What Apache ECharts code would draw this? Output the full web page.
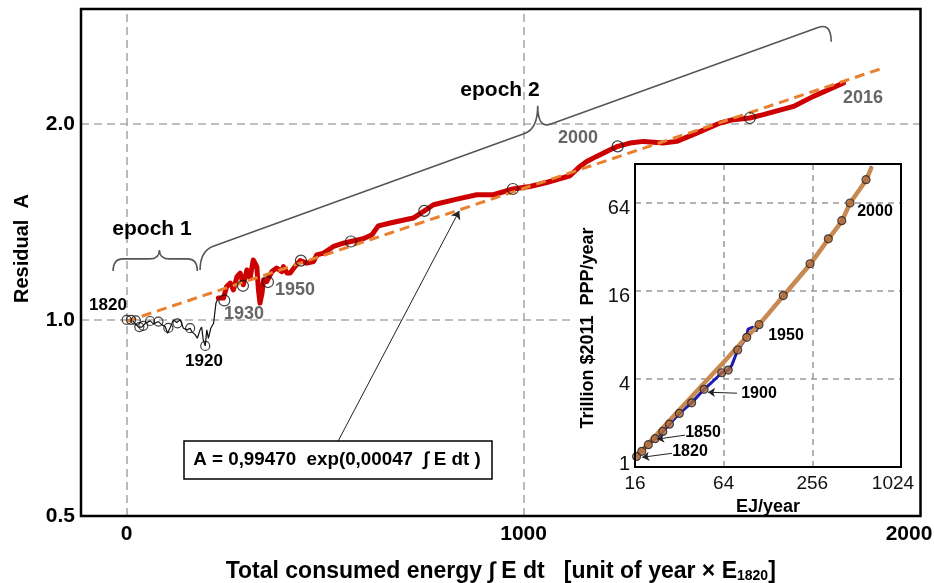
<!DOCTYPE html>
<html><head><meta charset="utf-8">
<script src="https://cdn.jsdelivr.net/npm/echarts@6/dist/echarts.min.js"></script>
<style>html,body{margin:0;padding:0;background:#fff}#c{width:934px;height:583px}</style>
</head><body><div id="c"></div>
<script>
// ===== Main chart: residual A vs total consumed energy =====
const xTicks = [0, 1000, 2000];
// epoch 1 (1820-1920) thin black trace
const epoch1Energy = [0,13,21,30,38,47,59,68,80,89,97,103,110,118,126,135,143,152,160,164,173,178,185,189,193,198,202,206,212,219,225,231];
const epoch1Residual = [1.0,1.0,0.988,0.9745,0.9745,0.988,0.9965,0.986,0.994,0.9825,0.9766,0.954,0.9745,1.0,0.9905,1.0,0.971,0.9652,0.971,0.9594,0.9483,0.937,0.9652,0.9745,0.9317,0.912,0.9652,0.937,0.971,0.988,1.061,1.080];
// decade markers 1820..1920
const epoch1MarkEnergy = [0,11,23,32,42,59,80,105,128,160,198];
const epoch1MarkResidual = [1.0,1.0,0.998,0.975,0.979,0.996,0.994,0.972,0.988,0.971,0.912];
// epoch 2 (1920-2016) thick red trace
const epoch2Energy = [231,244,252,261,269,278,286,294,303,311,319,328,332,336,341,345,353,366,378,391,395,404,412,424,437,454,471,479,496,521,546,565,596,618,634,664,722,750,773,832,882,924,973,1016,1058,1117,1142,1159,1184,1218,1237,1268,1302,1352,1386,1436,1495,1528,1570,1604,1680,1730,1806];
const epoch2Residual = [1.080,1.080,1.125,1.139,1.112,1.165,1.180,1.132,1.193,1.159,1.236,1.207,1.112,1.061,1.099,1.152,1.145,1.186,1.201,1.186,1.207,1.180,1.180,1.207,1.233,1.222,1.229,1.258,1.266,1.296,1.311,1.319,1.332,1.351,1.394,1.408,1.433,1.470,1.502,1.532,1.556,1.556,1.588,1.602,1.625,1.664,1.720,1.750,1.782,1.824,1.846,1.868,1.879,1.868,1.879,1.935,2.005,2.029,2.041,2.065,2.126,2.203,2.310];
// decade markers 1930..2010
const epoch2MarkEnergy = [246,293,356,439,565,750,973,1237,1570];
const epoch2MarkResidual = [1.071,1.128,1.143,1.233,1.319,1.470,1.588,1.846,2.041];
// fitted exponential A = 0.99470 exp(0.00047 * E) (endpoints)
const fitEnergy = [0, 1910];
const fitResidual = [0.995, 2.44];
// arrow from formula box to fit line
const arrowFrom = [533, 0.652];
const arrowTo = [838, 1.47];

// ===== Inset: GDP vs energy (log-log) =====
const insetXTicks = [16, 64, 256, 1024];
const insetMarkEnergy = [16.4,17.8,19.7,21.9,24.7,27.4,32.0,38.8,47.1,62.1,68.8,79.7,91.8,111.2,162.6,246.9,328.8,405.4,461.5,592.6];
const insetMarkGdp = [1.18,1.28,1.42,1.56,1.75,1.96,2.32,2.74,3.39,4.40,4.59,6.29,7.68,9.37,14.8,24.4,36.1,48.0,63.4,91.5];
const insetDataEnergy = [16.4,17.8,19.7,21.9,24.7,27.4,32.0,38.8,47.1,53.3,62.1,68.8,72.6,79.7,91.8,93.6,101.2,106.1,111.2,162.6,246.9,328.8,405.4,461.5,592.6,647.7];
const insetDataGdp = [1.18,1.28,1.42,1.56,1.75,1.96,2.32,2.74,3.39,3.79,4.40,4.59,4.94,6.29,7.68,8.72,9.00,8.45,9.37,14.8,24.4,36.1,48.0,63.4,91.5,112.8];
const insetModelEnergy = [16.4,21.9,32.3,47.1,62.1,79.7,91.8,111.2,162.6,246.9,328.8,405.4,461.5,592.6,647.7];
const insetModelGdp = [1.18,1.62,2.48,3.73,5.03,6.62,7.75,9.37,14.7,24.2,35.9,47.7,63.0,90.9,112];
const insetArrows = [
  [[78.8,3.19],[50.1,3.24]],
  [[35.0,1.65],[22.6,1.55]],
  [[28.5,1.24],[17.9,1.165]]
];

// braces (annotation geometry, endpoints in data units)
const braceSpecs = [
  {from:[-34,1.189], to:[178,1.189], f:0.55, h:12, t:9, r:10},
  {from:[185,1.193], to:[1775,2.673], f:0.535, h:19, t:23, r:14}
];

const zip = (a,b) => a.map((v,i)=>[v,b[i]]);
const FONT = '"Liberation Sans", Arial, sans-serif';

function braceRender(params, api){
  const b = braceSpecs[params.dataIndex];
  const p1 = api.coord(b.from), p2 = api.coord(b.to);
  const dx = p2[0]-p1[0], dy = p2[1]-p1[1];
  const L = Math.hypot(dx,dy), ux = dx/L, uy = dy/L;
  const add = (p,a,up) => [p[0]+a*ux, p[1]+a*uy-up];
  const A1 = add(p1,0,b.h), A2 = add(p1,b.r,b.h);
  const M = add(p1,b.f*L,b.h);
  const B1 = add(p1,b.f*L-b.r,b.h), T = add(p1,b.f*L,b.h+b.t), B2 = add(p1,b.f*L+b.r,b.h);
  const C1 = add(p2,0,b.h), C2 = add(p2,-b.r,b.h);
  const s = p => p[0].toFixed(2)+' '+p[1].toFixed(2);
  const d = 'M'+s(p1)+' Q'+s(A1)+' '+s(A2)+' L'+s(B1)+' Q'+s(M)+' '+s(T)+' Q'+s(M)+' '+s(B2)+' L'+s(C2)+' Q'+s(C1)+' '+s(p2);
  return {type:'path', shape:{pathData:d}, style:{fill:'none', stroke:'#555', lineWidth:1.6}};
}

function txt(text, x, y, size, color, z){
  return {type:'text', z: z||100, style:{text, x, y, fill:color||'#000',
    font:'bold '+size+'px '+FONT, align:'center', verticalAlign:'middle',
    textAlign:'center', textVerticalAlign:'middle'}};
}

const chart = echarts.init(document.getElementById('c'), null, {renderer:'canvas'});
const gridLine = {color:'#aaa', type:[8,5], width:1.6};
const arrowLine = {color:'#222', width:1, type:'solid'};
const insetLbl = {fontSize:20, color:'#111', fontFamily:FONT};

chart.setOption({
  animation:false,
  backgroundColor:'#fff',
  textStyle:{fontFamily:FONT},
  grid:[
    {left:81, right:13.5, top:9, bottom:67, show:false, containLabel:false, outerBoundsMode:'none'},
    {left:635, top:164, right:33, bottom:116, show:false, containLabel:false, outerBoundsMode:'none'}
  ],
  xAxis:[
    {type:'value', gridIndex:0, min:-115, max:2000,
     axisLine:{show:false}, axisTick:{show:false}, splitLine:{show:false},
     axisLabel:{customValues:xTicks, margin:8, fontSize:21, fontWeight:'bold', color:'#000', fontFamily:FONT,
       formatter: v => v===2000 ? '{m|2000}' : String(v),
       rich:{m:{fontSize:21, fontWeight:'bold', color:'#000', fontFamily:FONT, padding:[0,23,0,0]}}},
     name:'{a|Total consumed energy ∫ E dt   [unit of year × E}{s|1820}{a|]}',
     nameLocation:'middle', nameGap:40,
     nameTextStyle:{rich:{
       a:{fontSize:23, fontWeight:'bold', color:'#000', fontFamily:FONT, lineHeight:27, verticalAlign:'bottom'},
       s:{fontSize:14, fontWeight:'bold', color:'#000', fontFamily:FONT, lineHeight:17, verticalAlign:'bottom'}}}},
    {type:'log', logBase:4, gridIndex:1, min:16, max:1024, z:60,
     axisLine:{show:false}, axisTick:{show:false},
     splitLine:{show:true, lineStyle:{color:'#999', type:[6,5], width:1.5}},
     axisLabel:{fontSize:19, color:'#111', margin:7, fontFamily:FONT,
       formatter: v => { const r = Math.round(v); return r===1024 ? '{e|1024}' : String(r); },
       rich:{e:{fontSize:19, color:'#111', fontFamily:FONT, padding:[0,16,0,0]}}},
     name:'EJ/year', nameLocation:'middle', nameGap:21,
     nameTextStyle:{fontSize:18, fontWeight:'bold', color:'#000', fontFamily:FONT}}
  ],
  yAxis:[
    {type:'log', logBase:2, gridIndex:0, min:0.5, max:3,
     axisLine:{show:false}, axisTick:{show:false}, splitLine:{show:false},
     axisLabel:{formatter: v => Number(v).toFixed(1), showMaxLabel:false, fontSize:21, fontWeight:'bold', color:'#000', margin:6, fontFamily:FONT},
     name:'Residual  A', nameLocation:'middle', nameGap:49,
     nameTextStyle:{fontSize:20, fontWeight:'bold', color:'#000', fontFamily:FONT, padding:[0,0,0,28]}},
    {type:'log', logBase:4, gridIndex:1, min:1, max:117, z:60,
     axisLine:{show:false}, axisTick:{show:false},
     splitLine:{show:true, lineStyle:{color:'#999', type:[6,5], width:1.5}},
     axisLabel:{showMaxLabel:false, margin:5, fontSize:20, color:'#111', fontFamily:FONT,
       formatter: v => { const r = Math.round(v); return r===1 ? '{a|1}' : '{b|'+r+'}'; },
       rich:{a:Object.assign({padding:[0,0,6,0]}, insetLbl), b:Object.assign({padding:[12,0,0,0]}, insetLbl)}},
     name:'Trillion $2011  PPP/year', nameLocation:'middle', nameGap:38,
     nameTextStyle:{fontSize:18, fontWeight:'bold', color:'#000', fontFamily:FONT, padding:[0,25,0,0]}}
  ],
  series:[
    {type:'line', xAxisIndex:0, yAxisIndex:0, z:2, data:zip(epoch1Energy, epoch1Residual),
     symbol:'none', lineStyle:{color:'#111', width:1.2},
     markLine:{z:1, silent:true, symbol:['none','none'], label:{show:false}, lineStyle:gridLine,
       data:[{xAxis:0},{xAxis:1000},{yAxis:1},{yAxis:2}]}},
    {type:'line', xAxisIndex:0, yAxisIndex:0, z:3, data:zip(epoch2Energy, epoch2Residual),
     symbol:'none', lineStyle:{color:'#cc0000', width:5, cap:'round', join:'round'}},
    {type:'line', xAxisIndex:0, yAxisIndex:0, z:4, data:zip(fitEnergy, fitResidual),
     symbol:'none', lineStyle:{color:'#e8802f', width:3, type:[10,6]}},
    {type:'scatter', xAxisIndex:0, yAxisIndex:0, z:5, data:zip(epoch1MarkEnergy, epoch1MarkResidual),
     symbol:'circle', symbolSize:9, itemStyle:{color:'rgba(0,0,0,0)', borderColor:'#111', borderWidth:1.2}},
    {type:'scatter', xAxisIndex:0, yAxisIndex:0, z:5, data:zip(epoch2MarkEnergy, epoch2MarkResidual),
     symbol:'circle', symbolSize:11, itemStyle:{color:'rgba(0,0,0,0)', borderColor:'#111', borderWidth:1.2},
     markLine:{z:6, silent:true, symbol:['none','arrow'], symbolSize:8, label:{show:false},
       lineStyle:arrowLine, data:[[{coord:arrowFrom},{coord:arrowTo}]]}},
    {type:'custom', xAxisIndex:0, yAxisIndex:0, z:3, clip:false, renderItem:braceRender,
     data:braceSpecs.map(b=>b.from), encode:{x:0, y:1}},
    // inset
    {type:'line', xAxisIndex:1, yAxisIndex:1, z:70, data:zip(insetDataEnergy, insetDataGdp),
     symbol:'none', lineStyle:{color:'#1c1cb0', width:3}},
    {type:'line', xAxisIndex:1, yAxisIndex:1, z:71, data:zip(insetModelEnergy, insetModelGdp),
     symbol:'none', smooth:0.2, lineStyle:{color:'#c98a52', width:4.5}},
    {type:'scatter', xAxisIndex:1, yAxisIndex:1, z:72, data:zip(insetMarkEnergy, insetMarkGdp),
     symbol:'circle', symbolSize:8, itemStyle:{color:'#b06a3a', borderColor:'#222', borderWidth:1.2},
     markLine:{z:80, silent:true, symbol:['none','arrow'], symbolSize:7, label:{show:false},
       lineStyle:arrowLine, data:insetArrows.map(a=>[{coord:a[0]},{coord:a[1]}])}}
  ],
  graphic:[
    {type:'rect', z:50, shape:{x:573, y:200, width:28, height:316}, style:{fill:'#fff'}},
    {type:'rect', z:50, shape:{x:600, y:164, width:320, height:352}, style:{fill:'#fff'}},
    {type:'rect', z:95, shape:{x:81, y:9, width:839.5, height:507}, style:{fill:'none', stroke:'#000', lineWidth:2.5}},
    {type:'rect', z:95, shape:{x:635, y:164, width:266, height:303}, style:{fill:'none', stroke:'#000', lineWidth:2}},
    {type:'rect', z:90, shape:{x:184, y:441, width:308, height:38}, style:{fill:'#fff', stroke:'#000', lineWidth:1.5}},
    txt('A = 0,99470  exp(0,00047  ∫ E dt )', 337, 460, 18.8, '#000'),
    txt('epoch 1', 152, 229, 21, '#000'),
    txt('epoch 2', 500, 90, 21, '#000'),
    txt('1820', 108, 305, 17, '#000'),
    txt('1920', 204, 361, 17, '#000'),
    txt('1930', 244, 314, 18, '#666'),
    txt('1950', 295, 290, 18, '#666'),
    txt('2000', 578, 138, 18, '#666'),
    txt('2016', 863, 98, 18, '#666'),
    txt('2000', 875, 212, 16, '#000'),
    txt('1950', 786, 336, 16, '#000'),
    txt('1900', 759, 394, 16, '#000'),
    txt('1850', 703, 433, 16, '#000'),
    txt('1820', 690, 452, 16, '#000')
  ]
});
</script>
</body></html>
